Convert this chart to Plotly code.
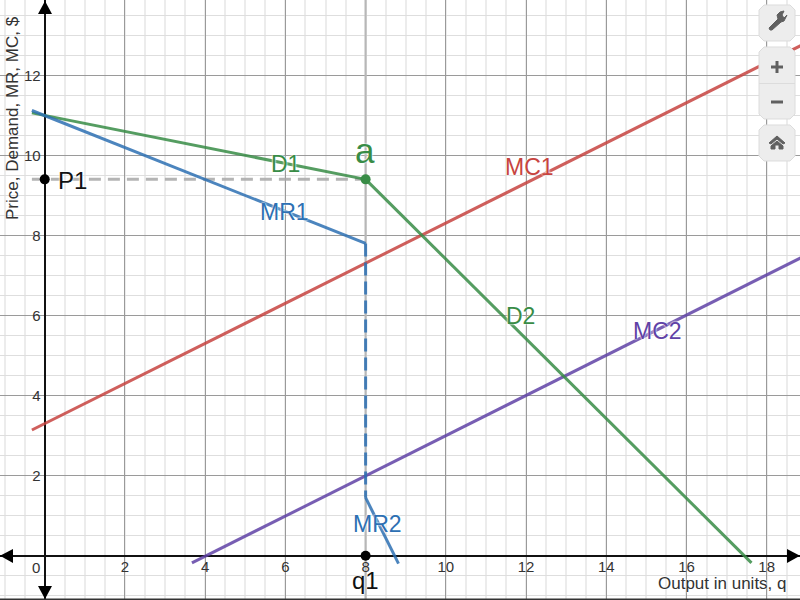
import plotly.graph_objects as go

# chart data
d1_x = [-0.32, 8]
d1_y = [11.06, 9.4]
d2_x = [8, 17.62]
d2_y = [9.4, -0.18]
mr1_x = [-0.32, 8]
mr1_y = [11.12, 7.8]
mr_gap_x = [8, 8]
mr_gap_y = [7.8, 1.45]
mr2_x = [8, 8.82]
mr2_y = [1.45, -0.2]
mc1_x = [-0.32, 18.85]
mc1_y = [3.14, 12.74]
mc2_x = [3.67, 18.85]
mc2_y = [-0.18, 7.44]
p1_x = [-0.32, 8]
p1_y = [9.4, 9.4]
q1_x = [8, 8]
q1_y = [-1.107, 13.88]
black_x = [0, 8]
black_y = [9.4, 0]
a_x = [8]
a_y = [9.4]

x_ticks = [2, 4, 6, 8, 10, 12, 14, 16, 18]
y_ticks = [2, 4, 6, 8, 10, 12]

W, H = 800, 600
RED, BLUE, GREEN, PURPLE = '#c74440', '#2d70b3', '#388c46', '#6042a6'
HALO = '0px 0px 2px white, 0px 0px 2px white'


def px(x, y):
    # page pixels -> paper coordinates
    return x / W, 1 - y / H


def path(points, close=True):
    s = ''
    for i, (x, y) in enumerate(points):
        u, v = px(x, y)
        s += ('M' if i == 0 else 'L') + f'{u:.5f},{v:.5f} '
    return s + ('Z' if close else '')


def button(x0, y0, x1, y1, r=5):
    pts = [(x0 + r, y0), (x1 - r, y0), (x1, y0 + r), (x1, y1 - r),
           (x1 - r, y1), (x0 + r, y1), (x0, y1 - r), (x0, y0 + r)]
    return dict(type='path', xref='paper', yref='paper', path=path(pts), layer='above',
                fillcolor='#ededed', line=dict(color='#dcdcdc', width=1))


def icon(points):
    return dict(type='path', xref='paper', yref='paper', path=path(points), layer='above',
                fillcolor='#606060', line=dict(color='#606060', width=1))


def rect(x0, y0, x1, y1, color='#606060'):
    u0, v0 = px(x0, y0)
    u1, v1 = px(x1, y1)
    return dict(type='rect', xref='paper', yref='paper', x0=u0, y0=v0, x1=u1, y1=v1,
                layer='above', fillcolor=color, line=dict(width=0))


fig = go.Figure()


def line(x, y, color, dash='solid', width=3):
    fig.add_trace(go.Scatter(x=x, y=y, mode='lines', opacity=0.85,
                             line=dict(color=color, width=width, dash=dash)))


line(q1_x, q1_y, '#bdbdbd', 'solid', 2.5)
line(p1_x, p1_y, '#a8a8a8', '12px,7px')
line(mc1_x, mc1_y, RED)
line(mc2_x, mc2_y, PURPLE)
line(d1_x, d1_y, GREEN)
line(d2_x, d2_y, GREEN)
line(mr1_x, mr1_y, BLUE)
line(mr_gap_x, mr_gap_y, BLUE, '13px,6px')
line(mr2_x, mr2_y, BLUE)

fig.add_trace(go.Scatter(x=black_x, y=black_y, mode='markers', marker=dict(color='black', size=10)))
fig.add_trace(go.Scatter(x=a_x, y=a_y, mode='markers', marker=dict(color=GREEN, size=10)))


def label(text, x, y, color, size=23):
    u, v = px(x, y)
    fig.add_annotation(text=text, xref='paper', yref='paper', x=u, y=v, xanchor='center', yanchor='middle',
                       showarrow=False, font=dict(family='Liberation Sans', size=size, color=color, shadow=HALO))


label('D1', 285, 164, GREEN)
label('D2', 520, 316, GREEN)
label('a', 365, 150, GREEN, 35)
label('MR1', 284, 212, BLUE)
label('MR2', 377, 524, BLUE)
label('MC1', 529, 167, RED)
label('MC2', 657, 331, PURPLE)
label('P1', 72, 180, '#111111', 24)
label('q1', 365, 580, '#111111', 24)
label('0', 36, 567, '#333333', 15)
label('Output in units, q', 722, 583, '#333333', 17)

u, v = px(12, 118)
fig.add_annotation(text='Price, Demand, MR, MC, $', xref='paper', yref='paper', x=u, y=v, xanchor='center',
                   yanchor='middle', textangle=-90, showarrow=False,
                   font=dict(family='Liberation Sans', size=17, color='#333333'))

shapes = []
# axis arrow heads
arrow = dict(type='path', xref='paper', yref='paper', layer='above', fillcolor='black', line=dict(width=0))
shapes.append(dict(arrow, path=path([(45, 1), (52, 14), (38, 14)])))
shapes.append(dict(arrow, path=path([(45, 599), (52, 586), (38, 586)])))
shapes.append(dict(arrow, path=path([(0, 555.7), (13, 549), (13, 563)])))
shapes.append(dict(arrow, path=path([(800, 555.7), (787, 549), (787, 563)])))
# bottom edge of the screenshot
shapes.append(rect(0, 598.5, 800, 600, '#333333'))

# tool buttons
shapes.append(button(759, 5, 795, 41))
shapes.append(button(759, 47, 795, 119))
shapes.append(button(759, 125, 795, 161))
shapes.append(rect(759, 83, 795, 84, '#dcdcdc'))
shapes.append(rect(771, 65.5, 783, 68.5))
shapes.append(rect(775.5, 61, 778.5, 73))
shapes.append(rect(771, 100.5, 783, 103.5))
# wrench
shapes.append(icon([(769, 28), (778, 19), (777, 15), (780, 12), (784, 11), (782, 15), (784, 18),
                    (787, 15), (784, 21), (781, 22), (772, 30), (770, 30)]))
# house
shapes.append(icon([(769, 143), (777, 136), (785, 143), (783, 144), (777, 139), (771, 144)]))
shapes.append(icon([(771, 146), (777, 141), (783, 146), (783, 149), (779, 149), (779, 145), (775, 145),
                    (775, 149), (771, 149)]))

xaxis = dict(range=[-1.115, 18.83], tickmode='array', tickvals=x_ticks, ticktext=[str(t) for t in x_ticks],
             anchor='free', position=(600 - 555.7) / 600, showline=False, ticks='',
             showgrid=True, gridcolor='#9a9a9a', gridwidth=1,
             minor=dict(tickmode='linear', tick0=0, dtick=0.5, showgrid=True, gridcolor='#ececec', gridwidth=2),
             zeroline=True, zerolinecolor='#111111', zerolinewidth=2,
             tickfont=dict(family='Liberation Sans', size=15, color='#333333'))
yaxis = dict(range=[-1.107, 13.88], tickmode='array', tickvals=y_ticks, ticktext=[str(t) for t in y_ticks],
             anchor='free', position=44.7 / 800, showline=False, ticks='', ticklabelstandoff=4,
             showgrid=True, gridcolor='#9a9a9a', gridwidth=1,
             minor=dict(tickmode='linear', tick0=0, dtick=0.5, showgrid=True, gridcolor='#dedede', gridwidth=1),
             zeroline=True, zerolinecolor='#111111', zerolinewidth=2,
             tickfont=dict(family='Liberation Sans', size=15, color='#333333'))

fig.update_layout(width=W, height=H, margin=dict(l=0, r=0, t=0, b=0), autosize=False, showlegend=False,
                  plot_bgcolor='white', paper_bgcolor='white', xaxis=xaxis, yaxis=yaxis, shapes=shapes)

# no page margin, so the figure fills the 800x600 window
fig.write_html("out.html", config=dict(displayModeBar=False),
               post_script="document.body.style.margin='0';document.body.style.overflow='hidden';")
